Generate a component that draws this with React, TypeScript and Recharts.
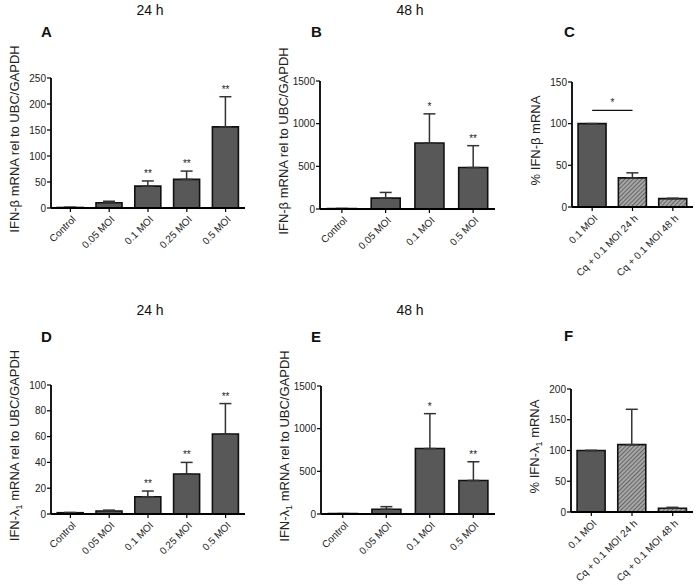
import React from 'react';
import {
  BarChart,
  Bar,
  XAxis,
  YAxis,
  ErrorBar,
  Cell,
  ReferenceDot,
  ReferenceLine,
} from 'recharts';

const cats24 = ['Control', '0.05 MOI', '0.1 MOI', '0.25 MOI', '0.5 MOI'];
const cats48 = ['Control', '0.05 MOI', '0.1 MOI', '0.5 MOI'];
const catsCq = ['0.1 MOI', 'Cq + 0.1 MOI 24 h', 'Cq + 0.1 MOI 48 h'];

// IFN-beta
const betaMean24 = [1, 10, 42, 55, 156];
const betaErr24 = [0.3, 3, 10, 16, 58];
const betaStars24 = ['', '', '**', '**', '**'];
const betaMean48 = [5, 128, 773, 486];
const betaErr48 = [0, 66, 342, 256];
const betaStars48 = ['', '', '*', '**'];
const betaMeanCq = [100, 35, 10];
const betaErrCq = [0, 6, 0.5];

// IFN-lambda1
const lamMean24 = [1, 2.3, 13.4, 31, 62];
const lamErr24 = [0.2, 0.7, 4.4, 9, 23.6];
const lamStars24 = ['', '', '**', '**', '**'];
const lamMean48 = [4, 55, 767, 393];
const lamErr48 = [0, 31, 409, 219];
const lamStars48 = ['', '', '*', '**'];
const lamMeanCq = [100, 109.5, 6];
const lamErrCq = [0, 57.5, 1.6];

const cqHatched = [false, true, true];

const ticksBeta24 = [0, 50, 100, 150, 200, 250];
const ticks48 = [0, 500, 1000, 1500];
const ticksBetaCq = [0, 50, 100, 150];
const ticksLam24 = [0, 20, 40, 60, 80, 100];
const ticksLamCq = [0, 50, 100, 150, 200];

const FONT = 'Arial, "Liberation Sans", sans-serif';
const DARK = '#585858';

const XTick = ({ x, y, payload }: any) => {
  const ax = x + 6;
  const ay = y + 6;
  return (
    <text
      x={ax}
      y={ay}
      transform={`rotate(-45, ${ax}, ${ay})`}
      textAnchor="end"
      fontSize={10}
      fontFamily={FONT}
      fill="#222"
    >
      {payload.value}
    </text>
  );
};

const YTitle = ({ viewBox, lines }: any) => {
  const x = viewBox.x + viewBox.width - 32;
  const y = viewBox.y + viewBox.height / 2 - 4;
  return (
    <text
      x={x}
      y={y}
      transform={`rotate(-90, ${x}, ${y})`}
      textAnchor="middle"
      fontSize={13}
      fontFamily={FONT}
      fill="#222"
    >
      {lines}
    </text>
  );
};

const StarLabel = ({ viewBox, text }: any) => (
  <text
    x={viewBox.x + viewBox.width / 2}
    y={viewBox.y - 4}
    textAnchor="middle"
    fontSize={10}
    fontFamily={FONT}
    fill="#222"
  >
    {text}
  </text>
);

const betaTitle = 'IFN-β mRNA rel to UBC/GAPDH';
const lamTitle = (
  <>
    <tspan>IFN-λ</tspan>
    <tspan dy={3} fontSize={9}>1</tspan>
    <tspan dy={-3}> mRNA rel to UBC/GAPDH</tspan>
  </>
);
const betaPct = '% IFN-β mRNA';
const lamPct = (
  <>
    <tspan>% IFN-λ</tspan>
    <tspan dy={3} fontSize={9}>1</tspan>
    <tspan dy={-3}> mRNA</tspan>
  </>
);

type PanelProps = {
  id: string;
  x0: number;
  x1: number;
  y0: number;
  y1: number;
  cats: string[];
  means: number[];
  errs: number[];
  stars?: string[];
  hatched?: boolean[];
  ticks: number[];
  title: React.ReactNode;
  gap: string;
  sig?: { from: string; to: string; y: number; text: string };
};

function Panel({ id, x0, x1, y0, y1, cats, means, errs, stars, hatched, ticks, title, gap, sig }: PanelProps) {
  const yw = 48;
  const mt = 70;
  const left = x0 - yw;
  const top = y0 - mt;
  const width = x1 + 4 - left;
  const height = y1 + 72 - top;
  const data = cats.map((c, i) => ({ name: c, mean: means[i], err: [0, errs[i]] }));
  return (
    <div style={{ position: 'absolute', left, top, width, height }}>
      <BarChart
        width={width}
        height={height}
        data={data}
        margin={{ top: mt, right: 4, bottom: 0, left: 0 }}
        barCategoryGap={gap}
      >
        <defs>
          <pattern id={`hatch${id}`} patternUnits="userSpaceOnUse" width={3} height={3} patternTransform="rotate(45)">
            <rect width={3} height={3} fill="#a6a6a6" />
            <line x1={0} y1={0} x2={0} y2={3} stroke="#555" strokeWidth={1.6} />
          </pattern>
        </defs>
        <XAxis
          dataKey="name"
          height={72}
          tick={<XTick />}
          tickSize={4}
          tickLine={{ stroke: '#000', strokeWidth: 1.2 }}
          axisLine={{ stroke: '#000', strokeWidth: 1.8 }}
          interval={0}
        />
        <YAxis
          width={yw}
          domain={[ticks[0], ticks[ticks.length - 1]]}
          ticks={ticks}
          interval={0}
          tickSize={4}
          tickMargin={1}
          tick={{ fontSize: 10, fill: '#222', fontFamily: FONT }}
          tickLine={{ stroke: '#000', strokeWidth: 1.2 }}
          axisLine={{ stroke: '#000', strokeWidth: 1.8 }}
          label={{ content: (p: any) => <YTitle {...p} lines={title} /> }}
        />
        <Bar dataKey="mean" stroke="#111" strokeWidth={1.6} isAnimationActive={false}>
          {data.map((d, i) => (
            <Cell key={d.name} fill={hatched && hatched[i] ? `url(#hatch${id})` : DARK} />
          ))}
          <ErrorBar dataKey="err" direction="y" width={6} stroke="#333" strokeWidth={1.5} />
        </Bar>
        {stars &&
          stars.map((s, i) =>
            s ? (
              <ReferenceDot
                key={`s${i}`}
                x={cats[i]}
                y={means[i] + errs[i]}
                r={0}
                fill="none"
                stroke="none"
                ifOverflow="visible"
                label={{ content: (p: any) => <StarLabel {...p} text={s} /> }}
              />
            ) : null
          )}
        {sig && (
          <ReferenceLine
            segment={[
              { x: sig.from, y: sig.y },
              { x: sig.to, y: sig.y },
            ]}
            stroke="#111"
            strokeWidth={1.2}
            ifOverflow="visible"
            label={{ content: (p: any) => <StarLabel {...p} text={sig.text} /> }}
          />
        )}
      </BarChart>
    </div>
  );
}

const headerStyle = { fontFamily: FONT, fill: '#111' };

export default function App() {
  return (
    <div style={{ position: 'absolute', left: 0, top: 0, width: 697, height: 585, background: '#fff', overflow: 'hidden' }}>
      <svg width={697} height={585} style={{ position: 'absolute', left: 0, top: 0 }}>
        <text x={150} y={15} textAnchor="middle" fontSize={14} {...headerStyle}>24 h</text>
        <text x={410} y={15} textAnchor="middle" fontSize={14} {...headerStyle}>48 h</text>
        <text x={150} y={315} textAnchor="middle" fontSize={14} {...headerStyle}>24 h</text>
        <text x={410} y={315} textAnchor="middle" fontSize={14} {...headerStyle}>48 h</text>
        <text x={41} y={37} fontSize={15} fontWeight="bold" {...headerStyle}>A</text>
        <text x={311} y={37} fontSize={15} fontWeight="bold" {...headerStyle}>B</text>
        <text x={564} y={37} fontSize={15} fontWeight="bold" {...headerStyle}>C</text>
        <text x={41} y={342} fontSize={15} fontWeight="bold" {...headerStyle}>D</text>
        <text x={311} y={342} fontSize={15} fontWeight="bold" {...headerStyle}>E</text>
        <text x={564} y={341} fontSize={15} fontWeight="bold" {...headerStyle}>F</text>
      </svg>
      <Panel id="A" x0={51} x1={245} y0={78} y1={208} cats={cats24} means={betaMean24} errs={betaErr24} stars={betaStars24} ticks={ticksBeta24} title={betaTitle} gap="16%" />
      <Panel id="B" x0={320} x1={495} y0={81} y1={209} cats={cats48} means={betaMean48} errs={betaErr48} stars={betaStars48} ticks={ticks48} title={betaTitle} gap="17%" />
      <Panel
        id="C"
        x0={572}
        x1={693}
        y0={82}
        y1={207}
        cats={catsCq}
        means={betaMeanCq}
        errs={betaErrCq}
        hatched={cqHatched}
        ticks={ticksBetaCq}
        title={betaPct}
        gap="15%"
        sig={{ from: catsCq[0], to: catsCq[1], y: 116, text: '*' }}
      />
      <Panel id="D" x0={51} x1={245} y0={385} y1={514} cats={cats24} means={lamMean24} errs={lamErr24} stars={lamStars24} ticks={ticksLam24} title={lamTitle} gap="16%" />
      <Panel id="E" x0={321} x1={495} y0={386} y1={514} cats={cats48} means={lamMean48} errs={lamErr48} stars={lamStars48} ticks={ticks48} title={lamTitle} gap="17%" />
      <Panel id="F" x0={571} x1={693} y0={389} y1={512} cats={catsCq} means={lamMeanCq} errs={lamErrCq} hatched={cqHatched} ticks={ticksLamCq} title={lamPct} gap="15%" />
    </div>
  );
}
